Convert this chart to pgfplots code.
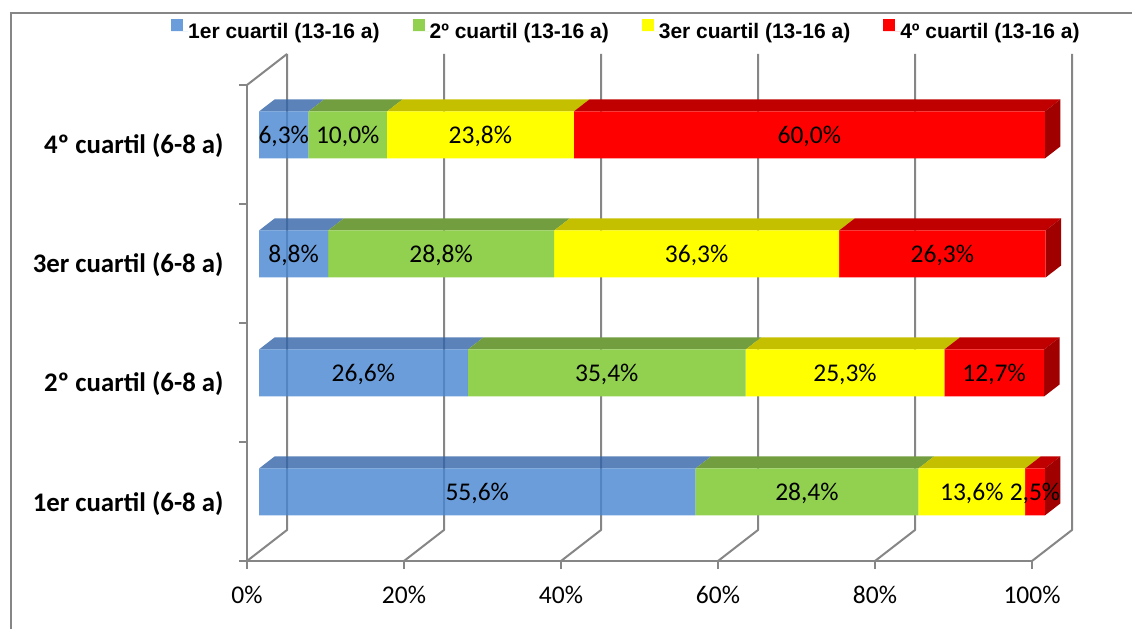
\documentclass[border=0pt]{standalone}
\usepackage{pgfplots}
\pgfplotsset{compat=1.18}
\usepackage{pgfplotstable}
\usepackage{fontspec}
\setmainfont{Carlito}
\newfontfamily\legendfont{Liberation Sans}

\definecolor{gridgray}{RGB}{134,134,134}
\definecolor{qblue}{RGB}{71,133,210}
\definecolor{qbluetop}{RGB}{50,100,169}
\definecolor{qgreen}{RGB}{146,208,80}
\definecolor{qgreentop}{RGB}{114,158,63}
\definecolor{qyellow}{RGB}{255,255,0}
\definecolor{qyellowtop}{RGB}{196,192,0}
\definecolor{qred}{RGB}{255,0,0}
\definecolor{qredtop}{RGB}{192,0,0}
\definecolor{qredside}{RGB}{160,0,0}

% share (%) of each 13-16 a quartile within each 6-8 a quartile
\pgfplotstableread{
y   q1   q2   q3   q4
0.5 55.6 28.4 13.6 2.5
1.5 26.6 35.4 25.3 12.7
2.5 8.8  28.8 36.3 26.3
3.5 6.3  10.0 23.8 60.0
}\shares

\pgfdeclareplotmark{blank}{}

\pgfplotsset{
  /pgf/number format/assume math mode=true,
  frame/.style={scale only axis, width=785pt, height=476pt,
    xmin=0, xmax=100, ymin=0, ymax=4, clip=false},
  % slanted top face of a stacked segment, drawn from the segment's end point
  topface/.style n args={3}{
    stack plots=x, only marks, mark=blank, scatter, point meta=y,
    visualization depends on={\thisrow{#1} \as \segv},
    scatter/@pre marker code/.code={%
      \pgfscope
      \pgfsetfillcolor{#2}\pgfsetfillopacity{#3}%
      \dimen0=\segv pt \dimen0=7.85\dimen0
      \pgfpathmoveto{\pgfqpoint{-\dimen0}{23.5pt}}%
      \pgfpathlineto{\pgfqpoint{0pt}{23.5pt}}%
      \pgfpathlineto{\pgfqpoint{15.5pt}{35.5pt}}%
      \advance\dimen0 by -15.5pt
      \pgfpathlineto{\pgfqpoint{-\dimen0}{35.5pt}}%
      \pgfpathclose
      \pgfusepath{fill}%
      \endpgfscope
    },
    scatter/@post marker code/.code={},
  },
  % right-hand side face of the whole bar
  sideface/.style={
    scatter/@pre marker code/.append code={%
      \pgfscope
      \pgfsetfillcolor{#1}%
      \pgfpathmoveto{\pgfqpoint{0pt}{-23.5pt}}%
      \pgfpathlineto{\pgfqpoint{0pt}{23.5pt}}%
      \pgfpathlineto{\pgfqpoint{15.5pt}{35.5pt}}%
      \pgfpathlineto{\pgfqpoint{15.5pt}{-11.5pt}}%
      \pgfpathclose
      \pgfusepath{fill}%
      \endpgfscope
    },
  },
  front/.style={draw=none, visualization depends on={\thisrow{#1} \as \segv}},
}

\begin{document}
\begin{tikzpicture}
\useasboundingbox (0pt,0pt) rectangle (1132pt,629pt);
\draw[gridgray, line width=2pt] (11pt,0pt) -- (11pt,616pt) -- (1132pt,616pt);

% walls, floor and category axis
\begin{axis}[frame, at={(247pt,68pt)}, anchor=south west,
  axis x line*=bottom, axis y line*=left,
  axis line style={-, draw=gridgray, line width=2pt},
  xtick={0,20,40,60,80,100},
  xticklabel={\pgfmathprintnumber{\tick}\%},
  ytick={0,1,2,3,4}, yticklabels={},
  extra y ticks={0.5,1.5,2.5,3.5},
  extra y tick labels={1er cuartil (6-8 a),2º cuartil (6-8 a),3er cuartil (6-8 a),4º cuartil (6-8 a)},
  extra y tick style={major tick length=0pt},
  tick align=outside, major tick length=8pt,
  tick style={draw=gridgray, line width=2pt},
  xticklabel style={font=\fontsize{25.5}{30}\selectfont, anchor=base, yshift=-34pt},
  yticklabel style={font=\bfseries\fontsize{26.8}{32}\selectfont, anchor=base east, xshift=-20pt, yshift=-9.5pt},
]
\pgfplotsinvokeforeach{0,20,40,60,80,100}{
  \draw[gridgray, line width=2pt, line join=round] (axis cs:#1,0) -- ([shift={(40pt,31pt)}]axis cs:#1,0) -- ([shift={(40pt,31pt)}]axis cs:#1,4);
}
\draw[gridgray, line width=2pt] (axis cs:0,4) -- ([shift={(40pt,31pt)}]axis cs:0,4);
\end{axis}

% top and side faces of the bars
\begin{axis}[frame, at={(259pt,77.5pt)}, anchor=south west, hide axis]
\addplot[topface={q1}{qbluetop}{0.8}] table[x=q1, y=y]{\shares};
\addplot[topface={q2}{qgreentop}{1}] table[x=q2, y=y]{\shares};
\addplot[topface={q3}{qyellowtop}{1}] table[x=q3, y=y]{\shares};
\addplot[topface={q4}{qredtop}{1}, sideface=qredside] table[x=q4, y=y]{\shares};
\end{axis}

% front faces, value labels and legend
\begin{axis}[frame, at={(259pt,77.5pt)}, anchor=south west, hide axis,
  xbar stacked, bar width=47pt,
  nodes near coords={\pgfmathprintnumber[fixed, fixed zerofill, precision=1, use comma]{\segv}\%},
  every node near coord/.append style={anchor=base, yshift=-8.5pt,
     font=\fontsize{25.5}{30}\selectfont, text=black, fill opacity=1, text opacity=1},
  legend image code/.code={\fill[#1] (0pt,1pt) rectangle (12pt,13pt); \path (0pt,0pt) -- (17pt,0pt);},
  legend columns=4,
  legend style={at={(-0.1121,1.0964)}, anchor=west, draw=none, fill=none,
    inner sep=0pt, column sep=0pt, nodes={inner sep=0pt},
    /tikz/every even column/.append style={column sep=33pt},
    font=\legendfont\bfseries\fontsize{21}{25}\selectfont},
]
\addplot[front=q1, fill=qblue, fill opacity=0.8] table[x=q1, y=y]{\shares};
\addlegendentry{1er cuartil (13-16 a)}
\addplot[front=q2, fill=qgreen] table[x=q2, y=y]{\shares};
\addlegendentry{2º cuartil (13-16 a)}
\addplot[front=q3, fill=qyellow] table[x=q3, y=y]{\shares};
\addlegendentry{3er cuartil (13-16 a)}
\addplot[front=q4, fill=qred] table[x=q4, y=y]{\shares};
\addlegendentry{4º cuartil (13-16 a)}
\end{axis}
\end{tikzpicture}
\end{document}
